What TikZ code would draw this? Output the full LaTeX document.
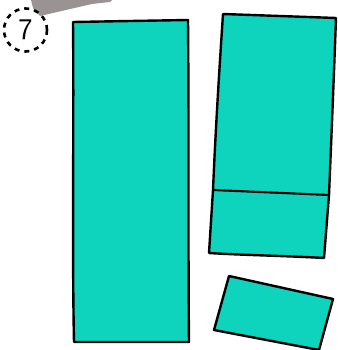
\documentclass[tikz,border=0pt]{standalone}
\usetikzlibrary{calc}
\definecolor{teal1}{RGB}{14,212,190}
\definecolor{greyw}{RGB}{135,128,128}
\tikzset{
  piece/.style={draw=black, fill=teal1, line width=2.4pt, line join=round},
  divider/.style={draw=black, line width=2.1pt},
}
\begin{document}
\begin{tikzpicture}[x=1pt,y=-1pt]
\useasboundingbox (0,0) rectangle (337,350);
% grey wedge
\fill[greyw, opacity=0.85] (31,0) -- (112,0) -- (110,2) -- (92,4) -- (40,16) -- (33,8) -- cycle;
% big left
\draw[piece] (73,22) -- (188,20) .. controls (189,130) and (188,250) .. (189,342) -- (74,342) .. controls (72,250) and (74,120) .. cycle;
% right top + bottom
\draw[piece] (223,14) -- (336,18) .. controls (333,100) and (330,170) .. (329,195) -- (324,258) .. controls (290,256) and (240,255) .. (209,253) -- (213,190) .. controls (216,120) and (220,60) .. cycle;
\coordinate (dl) at (213,190);
\coordinate (dr) at (329,195);
\draw[divider] (dl) -- (dr);
% small rotated
\draw[piece] (229,276) -- (333,299) -- (319,350) -- (214,330) -- cycle;
% circle label
\node[circle, draw=black, dash pattern=on 5pt off 5pt, line width=2.6pt, minimum size=43pt, inner sep=0pt, font=\sffamily\fontsize{30}{30}\selectfont] (num) at (25.5,30) {7};
\end{tikzpicture}
\end{document}
